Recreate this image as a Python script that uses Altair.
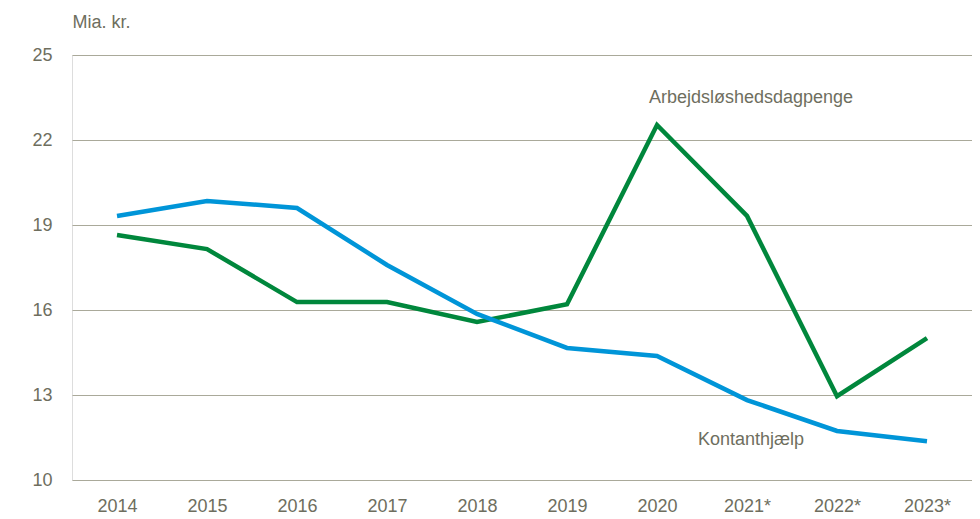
import altair as alt
import pandas as pd

years = ["2014", "2015", "2016", "2017", "2018", "2019", "2020", "2021*", "2022*", "2023*"]
dagpenge = [18.65, 18.15, 16.28, 16.28, 15.58, 16.2, 22.53, 19.32, 12.96, 15.01]
kontant = [19.32, 19.85, 19.6, 17.59, 15.86, 14.66, 14.38, 12.82, 11.73, 11.37]
series_names = ["Arbejdsløshedsdagpenge", "Kontanthjælp"]
series_colors = ["#00873c", "#0095d8"]
label_x = ["2021*", "2021*"]
label_y = [23.5, 11.4]

rows = []
for y, a, k in zip(years, dagpenge, kontant):
    rows.append({"year": y, "value": a, "series": series_names[0]})
    rows.append({"year": y, "value": k, "series": series_names[1]})
df = pd.DataFrame(rows)
labels = pd.DataFrame({"year": label_x, "value": label_y, "series": series_names})

FONT = "Liberation Sans Narrow, Arial Narrow, Liberation Sans, sans-serif"
TXT = "#6e6e5e"
FS = 18

x = alt.X("year:O", sort=years, scale=alt.Scale(type="point", padding=0.5),
          axis=alt.Axis(title=None, labelAngle=0, ticks=False, domain=False, labelPadding=17,
                        labelFontSize=FS, labelColor=TXT, labelFont=FONT, grid=False))
y = alt.Y("value:Q", scale=alt.Scale(domain=[10, 25], nice=False, zero=False),
          axis=alt.Axis(values=[10, 13, 16, 19, 22, 25], title="Mia. kr.", titleAngle=0,
                        titleAlign="left", titleBaseline="bottom", titleX=0, titleY=-24,
                        titleFontSize=FS, titleFontWeight="normal", titleColor=TXT, titleFont=FONT,
                        ticks=False, domain=False, labelPadding=20, labelFontSize=FS,
                        labelColor=TXT, labelFont=FONT, gridColor="#aaa99a", gridWidth=1))
color = alt.Color("series:N", scale=alt.Scale(domain=series_names, range=series_colors), legend=None)

lines = alt.Chart(df).mark_line(strokeWidth=4.5).encode(x=x, y=y, color=color, detail="series:N")
text = alt.Chart(labels).mark_text(fontSize=FS, font=FONT, color=TXT, align="center", baseline="middle",
                                   dx=4).encode(
    x=alt.X("year:O", sort=years), y="value:Q", text="series:N")

chart = alt.layer(lines, text).properties(
    width=900, height=425,
    autosize=alt.AutoSizeParams(type="none"),
    padding={"left": 64, "top": 47, "right": 0, "bottom": 34},
).configure_view(stroke=None).configure(background="white")

chart.save("out.html", embed_options={"renderer": "svg", "actions": False})
